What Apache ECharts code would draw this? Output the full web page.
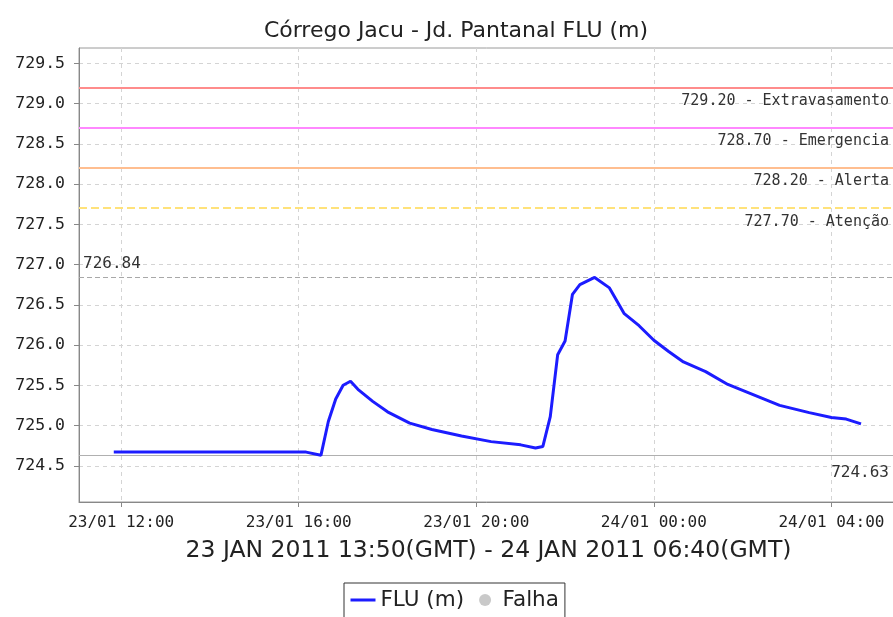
<!DOCTYPE html>
<html>
<head>
<meta charset="utf-8">
<script src="https://cdn.jsdelivr.net/npm/echarts@6/dist/echarts.min.js"></script>
<style>
html,body{margin:0;padding:0;background:#fff;}
#chart{width:893px;height:617px;}
</style>
</head>
<body>
<div id="chart"></div>
<script>
// ---- data ----
const titleText = 'Córrego Jacu - Jd. Pantanal FLU (m)';
const periodText = '23 JAN 2011 13:50(GMT) - 24 JAN 2011 06:40(GMT)';
const times = [
  '23/01 11:50','23/01 13:00','23/01 14:00','23/01 15:00','23/01 16:00','23/01 16:10',
  '23/01 16:30','23/01 16:40','23/01 16:50','23/01 17:00','23/01 17:10','23/01 17:20',
  '23/01 17:40','23/01 18:00','23/01 18:30','23/01 19:00','23/01 19:40','23/01 20:20',
  '23/01 21:00','23/01 21:20','23/01 21:30','23/01 21:40','23/01 21:50','23/01 22:00',
  '23/01 22:10','23/01 22:20','23/01 22:40','23/01 23:00','23/01 23:20','23/01 23:40',
  '24/01 00:00','24/01 00:20','24/01 00:40','24/01 01:10','24/01 01:40','24/01 02:10',
  '24/01 02:50','24/01 03:30','24/01 04:00','24/01 04:20','24/01 04:40'
];
const levels = [
  724.67,724.67,724.67,724.67,724.67,724.67,
  724.63,725.05,725.33,725.50,725.55,725.45,
  725.30,725.17,725.03,724.95,724.87,724.80,
  724.76,724.72,724.74,725.11,725.88,726.05,
  726.63,726.75,726.84,726.71,726.39,726.24,
  726.06,725.92,725.79,725.67,725.51,725.40,
  725.25,725.16,725.10,725.08,725.02
];
const thresholdValues = [729.20, 728.70, 728.20, 727.70];
const thresholdNames = ['Extravasamento', 'Emergencia', 'Alerta', 'Atenção'];
const xTickHours = [12, 16, 20, 24, 28];
const xTickLabels = ['23/01 12:00', '23/01 16:00', '23/01 20:00', '24/01 00:00', '24/01 04:00'];
const yTicks = [724.5, 725.0, 725.5, 726.0, 726.5, 727.0, 727.5, 728.0, 728.5, 729.0, 729.5];
const seriesNames = ['FLU (m)', 'Falha'];

// ---- styles ----
const thresholdColors = ['#ff8c8c', '#ff88ff', '#ffbe90', '#ffe27a'];
const thresholdTypes = ['solid', 'solid', 'solid', 'dashed'];
const mono = '"DejaVu Sans Mono", monospace';
const sans = '"DejaVu Sans", sans-serif';

function toHours(s) {
  const [d, t] = s.split(' ');
  const day = parseInt(d.split('/')[0], 10) - 23;
  const [h, m] = t.split(':').map(Number);
  return day * 24 + h + m / 60;
}
const points = times.map((t, i) => [toHours(t), levels[i]]);
const maxLevel = Math.max(...levels);
const minLevel = Math.min(...levels);

const markData = thresholdValues.map((v, i) => ({
  yAxis: v,
  lineStyle: { color: thresholdColors[i], width: 2, type: thresholdTypes[i] },
  label: {
    show: true, position: 'insideEndBottom', distance: [9, 6],
    formatter: v.toFixed(2) + ' - ' + thresholdNames[i],
    fontFamily: mono, fontSize: 15, color: '#333'
  }
}));
markData.push({
  yAxis: maxLevel,
  lineStyle: { color: '#a8a8a8', width: 1, type: [5, 3] },
  label: {
    show: true, position: 'insideStartTop', distance: [4, 6],
    formatter: maxLevel.toFixed(2), fontFamily: mono, fontSize: 16, color: '#333'
  }
});
markData.push({
  yAxis: minLevel,
  lineStyle: { color: '#b0b0b0', width: 1.2, type: 'solid' },
  label: {
    show: true, position: 'insideEndBottom', distance: [9, 10],
    formatter: minLevel.toFixed(2), fontFamily: mono, fontSize: 16, color: '#333'
  }
});

const chart = echarts.init(document.getElementById('chart'), null, { renderer: 'canvas' });
chart.setOption({
  animation: false,
  backgroundColor: '#fff',
  title: {
    text: titleText, left: 451, textAlign: 'center', top: 15,
    textStyle: { fontFamily: sans, fontSize: 22, fontWeight: 'normal', color: '#222' }
  },
  legend: {
    left: 344, top: 583,
    data: [
      { name: seriesNames[0], itemStyle: { opacity: 0 }, lineStyle: { width: 3, color: '#1c1cff' } },
      { name: seriesNames[1], icon: 'circle' }
    ],
    itemWidth: 25, itemHeight: 12, itemGap: 15,
    borderColor: '#333', borderWidth: 1, padding: [6, 6, 20, 5],
    textStyle: { fontFamily: sans, fontSize: 21.5, color: '#222' }
  },
  grid: {
    left: 79, top: 48, width: 819, bottom: 115,
    outerBoundsMode: 'none', containLabel: false,
    show: true, borderColor: '#9a9a9a', borderWidth: 1
  },
  xAxis: {
    type: 'value', min: 11.05, max: 29.5,
    name: periodText, nameLocation: 'middle', nameGap: 37,
    nameTextStyle: { fontFamily: sans, fontSize: 23.5, color: '#222' },
    axisLine: { show: true, lineStyle: { color: '#888' } },
    axisTick: { show: true, length: 5, customValues: xTickHours, lineStyle: { color: '#888' } },
    axisLabel: {
      customValues: xTickHours, margin: 13,
      formatter: v => xTickLabels[xTickHours.indexOf(v)],
      fontFamily: mono, fontSize: 16, color: '#222'
    },
    splitLine: { show: true, lineStyle: { color: '#d4d4d4', type: [4, 4] } }
  },
  yAxis: {
    type: 'value', min: 724.05, max: 729.69,
    axisLine: { show: true, lineStyle: { color: '#888' } },
    axisTick: { show: true, length: 5, customValues: yTicks, lineStyle: { color: '#888' } },
    axisLabel: {
      customValues: yTicks, margin: 14,
      formatter: v => v.toFixed(1),
      fontFamily: mono, fontSize: 16.5, color: '#222'
    },
    splitLine: { show: true, lineStyle: { color: '#d4d4d4', type: [4, 4] } }
  },
  series: [
    {
      name: seriesNames[0], type: 'line', data: points, showSymbol: false, symbol: 'none',
      lineStyle: { color: '#1c1cff', width: 3 }, itemStyle: { color: '#1c1cff' },
      markLine: { silent: true, symbol: 'none', animation: false, data: markData },
      z: 5
    },
    {
      name: seriesNames[1], type: 'scatter', data: [], itemStyle: { color: '#bcbcbc' }
    }
  ]
});
</script>
</body>
</html>
